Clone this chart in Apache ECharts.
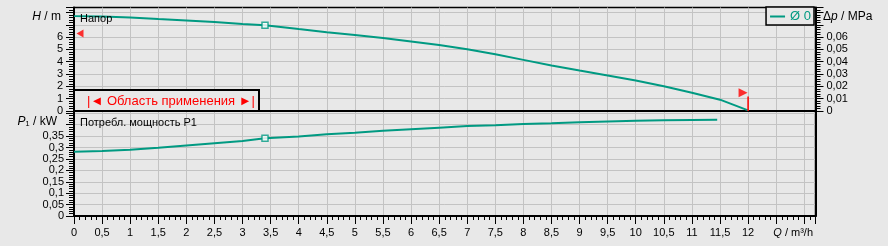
<!DOCTYPE html>
<html>
<head>
<meta charset="utf-8">
<script src="https://cdn.jsdelivr.net/npm/echarts@6/dist/echarts.min.js"></script>
<style>
html,body{margin:0;padding:0;background:#e8e8e8;}
#c{width:888px;height:246px;}
</style>
</head>
<body>
<div id="c"></div>
<script>
// ---- data ----
const headQ = [0, 0.5, 1.0, 1.5, 2.0, 2.5, 3.0, 3.4, 4.0, 4.5, 5.0, 5.5, 6.0, 6.5, 7.0, 7.5, 8.0, 8.5, 9.0, 9.5, 10.0, 10.5, 11.0, 11.5, 12.0];
const headH = [7.70, 7.66, 7.58, 7.46, 7.35, 7.22, 7.07, 6.96, 6.65, 6.40, 6.17, 5.92, 5.64, 5.35, 5.01, 4.60, 4.15, 3.70, 3.28, 2.89, 2.48, 2.01, 1.48, 0.92, 0.05];
const powerQ = [0, 0.5, 1.0, 1.5, 2.0, 2.5, 3.0, 3.4, 4.0, 4.5, 5.0, 5.5, 6.0, 6.5, 7.0, 7.5, 8.0, 8.5, 9.0, 9.5, 10.0, 10.5, 11.0, 11.45];
const powerP = [0.282, 0.285, 0.290, 0.299, 0.309, 0.319, 0.329, 0.341, 0.348, 0.358, 0.365, 0.373, 0.380, 0.387, 0.394, 0.398, 0.403, 0.406, 0.411, 0.414, 0.417, 0.419, 0.421, 0.422];
const dutyQ = [3.4];
const dutyH = [6.96];
const dutyP = [0.341];
const limitLeft = [0, 6.3];          // red triangle on H axis
const limitRightQ = [12];            // right flag position
const limitRightPole = [0, 1.18];    // pole from / to (m)
const limitRightFlag = [1.48];       // flag centre (m)
const seriesName = 'Ø 0';
const qMax = 13.2, hMax = 8.4, dpMax = 0.084, pMax = 0.46;

const teal = '#009a82';
const FONT = '"Liberation Sans", Arial, sans-serif';
const fmt = (v, d) => String(Math.round(v * d) / d).replace('.', ',');

const chart = echarts.init(document.getElementById('c'), null, {renderer: 'canvas'});

const gridLine = {show: true, showMinLine: false, showMaxLine: false, lineStyle: {color: '#c3c3c3', width: 1}};
const axisLineBlack = {show: true, lineStyle: {color: '#000', width: 2}};
const lbl = {color: '#000', fontFamily: FONT, fontSize: 11};

const option = {
  backgroundColor: '#e8e8e8',
  animation: false,
  grid: [
    {left: 74, right: 72.5, top: 7.5, height: 103.5, show: true, borderColor: '#000', borderWidth: 1.5, backgroundColor: 'transparent'},
    {left: 74, right: 72.5, top: 111, height: 105, show: true, borderColor: '#000', borderWidth: 1.5, backgroundColor: 'transparent'}
  ],
  legend: {
    data: [{name: seriesName, icon: 'rect'}],
    right: 74, top: 7,
    itemWidth: 15, itemHeight: 2,
    padding: [3, 3, 2, 4],
    borderColor: '#000', borderWidth: 1.5,
    backgroundColor: '#e8e8e8',
    textStyle: {color: teal, fontSize: 13, fontFamily: FONT},
    selectedMode: false
  },
  xAxis: [
    {type: 'value', gridIndex: 0, min: 0, max: qMax, interval: 0.5,
     axisLine: axisLineBlack, axisTick: {show: false}, axisLabel: {show: false},
     splitLine: gridLine},
    {type: 'value', gridIndex: 1, min: 0, max: qMax, interval: 0.5,
     axisLine: axisLineBlack,
     axisTick: {show: true, length: 8, lineStyle: {color: '#000', width: 1}},
     minorTick: {show: true, splitNumber: 5, length: 4, lineStyle: {color: '#000', width: 1}},
     axisLabel: Object.assign({margin: 11, formatter: v => v <= 12.001 ? fmt(v, 100) : ''}, lbl),
     splitLine: gridLine}
  ],
  yAxis: [
    {type: 'value', gridIndex: 0, min: 0, max: hMax, interval: 1,
     axisLine: axisLineBlack,
     axisTick: {show: true, length: 8, lineStyle: {color: '#000', width: 1}},
     minorTick: {show: true, splitNumber: 5, length: 5, lineStyle: {color: '#000', width: 1}},
     axisLabel: Object.assign({margin: 11, formatter: v => v <= 6.001 ? fmt(v, 100) : ''}, lbl),
     splitLine: gridLine},
    {type: 'value', gridIndex: 0, position: 'right', min: 0, max: dpMax, interval: 0.01,
     axisLine: axisLineBlack,
     axisTick: {show: true, length: 8, lineStyle: {color: '#000', width: 1}},
     minorTick: {show: true, splitNumber: 5, length: 5, lineStyle: {color: '#000', width: 1}},
     axisLabel: Object.assign({margin: 11, formatter: v => Math.round(v * 1000) <= 60 ? fmt(v, 1000) : ''}, lbl),
     splitLine: {show: false}},
    {type: 'value', gridIndex: 1, min: 0, max: pMax, interval: 0.05,
     axisLine: axisLineBlack,
     axisTick: {show: true, length: 8, lineStyle: {color: '#000', width: 1}},
     minorTick: {show: true, splitNumber: 5, length: 5, lineStyle: {color: '#000', width: 1}},
     axisLabel: Object.assign({margin: 10, formatter: v => Math.round(v * 100) <= 35 ? fmt(v, 100) : ''}, lbl),
     splitLine: gridLine},
    {type: 'value', gridIndex: 1, position: 'right', min: 0, max: pMax,
     axisLine: axisLineBlack, axisTick: {show: false}, axisLabel: {show: false},
     splitLine: {show: false}}
  ],
  series: [
    {name: seriesName, type: 'line', xAxisIndex: 0, yAxisIndex: 0, smooth: false, showSymbol: false,
     lineStyle: {color: teal, width: 2}, itemStyle: {color: teal}, z: 5,
     data: headQ.map((q, i) => [q, headH[i]])},
    {name: 'P1', type: 'line', xAxisIndex: 1, yAxisIndex: 2, smooth: false, showSymbol: false,
     lineStyle: {color: teal, width: 2}, itemStyle: {color: teal}, z: 5,
     data: powerQ.map((q, i) => [q, powerP[i]])},
    {type: 'scatter', xAxisIndex: 0, yAxisIndex: 0, symbol: 'rect', symbolSize: 6, z: 6,
     itemStyle: {color: '#ffffff', borderColor: teal, borderWidth: 1.5},
     data: dutyQ.map((q, i) => [q, dutyH[i]])},
    {type: 'scatter', xAxisIndex: 1, yAxisIndex: 2, symbol: 'rect', symbolSize: 6, z: 6,
     itemStyle: {color: '#ffffff', borderColor: teal, borderWidth: 1.5},
     data: dutyQ.map((q, i) => [q, dutyP[i]])},
    {type: 'scatter', xAxisIndex: 0, yAxisIndex: 0, symbol: 'triangle', symbolSize: [8, 7],
     symbolRotate: 90, symbolOffset: [6, 0], z: 7, itemStyle: {color: '#ff0000'},
     data: [limitLeft]},
    {type: 'line', xAxisIndex: 0, yAxisIndex: 0, showSymbol: false, z: 7,
     lineStyle: {color: '#ff0000', width: 1.5},
     data: limitRightPole.map(h => [limitRightQ[0], h])},
    {type: 'scatter', xAxisIndex: 0, yAxisIndex: 0, symbol: 'triangle', symbolSize: [9, 9],
     symbolRotate: -90, symbolOffset: [-5, 0], z: 7, itemStyle: {color: '#ff0000'},
     data: [[limitRightQ[0], limitRightFlag[0]]]}
  ],
  graphic: [
    {type: 'text', left: 80, top: 13, z: 50,
     style: {text: 'Напор', fill: '#000', font: '11px ' + FONT}},
    {type: 'text', left: 80, top: 117, z: 50,
     style: {text: 'Потребл. мощность Р1', fill: '#000', font: '11px ' + FONT}},
    {type: 'text', right: 888 - 61, top: 11, z: 50,
     style: {text: '{i|H} / m', fill: '#000', font: '12px ' + FONT,
       rich: {i: {fontStyle: 'italic', fontSize: 12, fontFamily: FONT, fill: '#000'}}}},
    {type: 'text', left: 823, top: 11, z: 50,
     style: {text: 'Δ{i|p} / MPa', fill: '#000', font: '12px ' + FONT,
       rich: {i: {fontStyle: 'italic', fontSize: 12, fontFamily: FONT, fill: '#000'}}}},
    {type: 'text', right: 888 - 57, top: 116, z: 50,
     style: {text: '{i|P}₁ / kW', fill: '#000', font: '12px ' + FONT,
       rich: {i: {fontStyle: 'italic', fontSize: 12, fontFamily: FONT, fill: '#000'}}}},
    {type: 'text', right: 888 - 813, top: 227, z: 50,
     style: {text: '{i|Q} / m³/h', fill: '#000', font: '11px ' + FONT,
       rich: {i: {fontStyle: 'italic', fontSize: 11, fontFamily: FONT, fill: '#000'}}}},
    {type: 'rect', shape: {x: 74, y: 90, width: 185, height: 21}, z: 40,
     style: {fill: '#e8e8e8', stroke: '#000', lineWidth: 2}},
    {type: 'text', x: 171, y: 101, z: 41,
     style: {text: '|◄ Область применения ►|', fill: '#ff0000', font: '13px ' + FONT,
       align: 'center', verticalAlign: 'middle'}}
  ]
};
chart.setOption(option);
</script>
</body>
</html>
